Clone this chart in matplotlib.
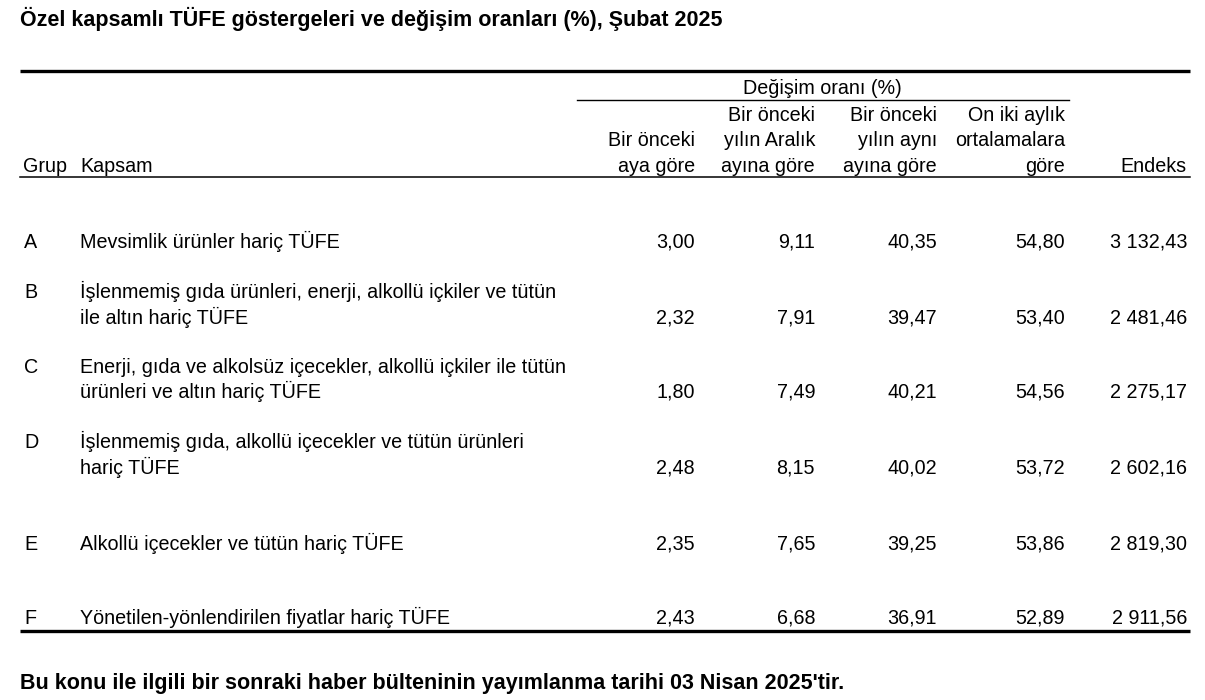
"""Özel kapsamlı TÜFE göstergeleri tablosu (Şubat 2025) - matplotlib ile tablo görünümü."""
import matplotlib.pyplot as plt

plt.rcParams['font.family'] = ['Liberation Sans', 'DejaVu Sans']

TITLE = "Özel kapsamlı TÜFE göstergeleri ve değişim oranları (%), Şubat 2025"
FOOTER = "Bu konu ile ilgili bir sonraki haber bülteninin yayımlanma tarihi 03 Nisan 2025'tir."

GROUPS = ["A", "B", "C", "D", "E", "F"]
SCOPES = [
    ["Mevsimlik ürünler hariç TÜFE"],
    ["İşlenmemiş gıda ürünleri, enerji, alkollü içkiler ve tütün",
     "ile altın hariç TÜFE"],
    ["Enerji, gıda ve alkolsüz içecekler, alkollü içkiler ile tütün",
     "ürünleri ve altın hariç TÜFE"],
    ["İşlenmemiş gıda, alkollü içecekler ve tütün ürünleri",
     "hariç TÜFE"],
    ["Alkollü içecekler ve tütün hariç TÜFE"],
    ["Yönetilen-yönlendirilen fiyatlar hariç TÜFE"],
]
MONTHLY = [3.00, 2.32, 1.80, 2.48, 2.35, 2.43]
SINCE_DEC = [9.11, 7.91, 7.49, 8.15, 7.65, 6.68]
ANNUAL = [40.35, 39.47, 40.21, 40.02, 39.25, 36.91]
TWELVE_MONTH_AVG = [54.80, 53.40, 54.56, 53.72, 53.86, 52.89]
INDEX = [3132.43, 2481.46, 2275.17, 2602.16, 2819.30, 2911.56]

COL_HEADERS = [
    ["", "Bir önceki", "aya göre"],
    ["Bir önceki", "yılın Aralık", "ayına göre"],
    ["Bir önceki", "yılın aynı", "ayına göre"],
    ["On iki aylık", "ortalamalara", "göre"],
    ["", "", "Endeks"],
]


def tr_num(v, thousands=False):
    s = f"{v:,.2f}" if thousands else f"{v:.2f}"
    return s.replace(",", " ").replace(".", ",")


def main():
    fig = plt.figure(figsize=(12.05, 7.0), dpi=100)
    ax = fig.add_axes([0, 0, 1, 1])
    ax.set_xlim(0, 1205)
    ax.set_ylim(700, 0)
    ax.axis("off")

    fs = 14.2
    fs_bold = 15.5
    ax.text(20, 26, TITLE, fontsize=fs_bold, fontweight="bold", va="baseline")

    # table rules
    ax.plot([20, 1190], [71, 71], color="black", lw=2.4, solid_capstyle="butt")
    ax.plot([577, 1069], [100, 100], color="black", lw=1.0)
    ax.plot([20, 1190], [177, 177], color="black", lw=1.1)
    ax.plot([20, 1190], [631, 631], color="black", lw=2.4, solid_capstyle="butt")

    ax.text(822, 94, "Değişim oranı (%)", fontsize=fs, ha="center", va="baseline")
    col_x = [695, 815, 937, 1065, 1187]
    head_y = [121, 146, 172]
    for cx, lines in zip(col_x, COL_HEADERS):
        for y, line in zip(head_y, lines):
            if line:
                ax.text(cx, y, line, fontsize=fs, ha="right", va="baseline")
    ax.text(23, 172, "Grup", fontsize=fs, va="baseline")
    ax.text(80, 172, "Kapsam", fontsize=fs, va="baseline")

    row_y = [[248], [298, 324], [373, 398], [448, 474], [550], [624]]
    for i, g in enumerate(GROUPS):
        ys = row_y[i]
        ax.text(24, ys[0], g, fontsize=fs, va="baseline")
        for y, line in zip(ys, SCOPES[i]):
            ax.text(80, y, line, fontsize=fs, va="baseline")
        vals = [tr_num(MONTHLY[i]), tr_num(SINCE_DEC[i]), tr_num(ANNUAL[i]),
                tr_num(TWELVE_MONTH_AVG[i]), tr_num(INDEX[i], thousands=True)]
        for cx, v in zip(col_x, vals):
            ax.text(cx, ys[-1], v, fontsize=fs, ha="right", va="baseline")

    ax.text(20, 689, FOOTER, fontsize=fs_bold, fontweight="bold", va="baseline")

    fig.savefig("out.png", dpi=100)


if __name__ == "__main__":
    main()
